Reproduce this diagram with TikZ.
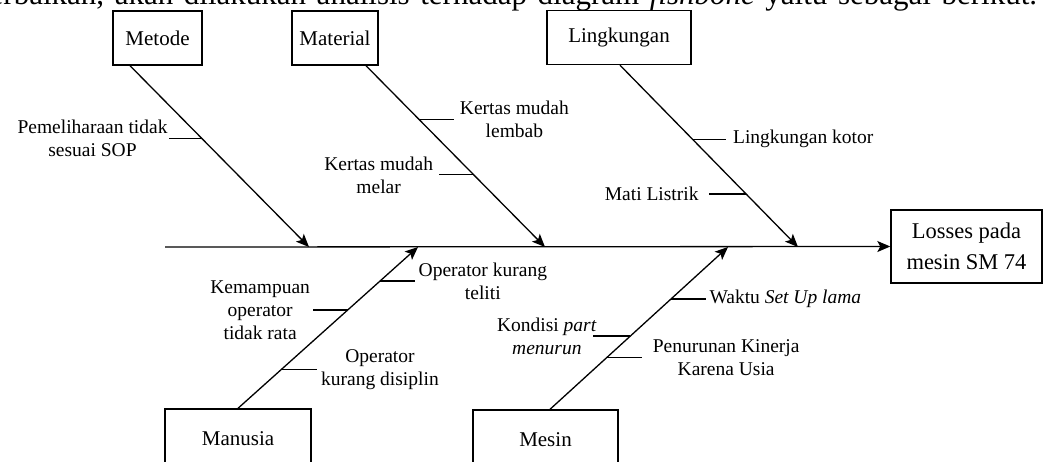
\documentclass[tikz,border=0pt]{standalone}
\usepackage{fontspec}
\setmainfont{Liberation Serif}
\usetikzlibrary{arrows.meta,positioning,calc}
\newcommand{\labelfont}{\fontsize{19.5}{23}\selectfont}
\newcommand{\catfont}{\fontsize{21}{31}\selectfont}
\tikzset{
  cat/.style   = {draw, line width=1.4pt, minimum height=54pt, inner sep=2pt,
                  align=center, font=\catfont},
  cause/.style = {align=center, inner sep=0pt, font=\labelfont},
  bone/.style  = {-{Stealth[length=13pt,width=11pt,inset=3pt]}, line width=1.3pt},
  twig/.style  = {line width=1.3pt},
}

\begin{document}
\begin{tikzpicture}[x=1pt, y=-1pt]
  \useasboundingbox (0,0) rectangle (1044,461);
  \clip (0,0) rectangle (1044,461);
  % running text above the figure
  \node[anchor=base west, inner sep=0pt, font=\fontsize{31}{36}\selectfont] (intro) at (-26,4)
    {\spaceskip=10.6pt perbaikan, akan dilakukan analisis terhadap diagram \textit{fishbone} yaitu sebagai berikut.};
  % categories
  \node[cat, minimum width=89pt] (metode) at (157.5,38) {Metode};
  \node[cat, minimum width=86pt] (material) at (335,38) {Material};
  \node[cat, minimum width=144pt] (lingkungan) at (619,37.5) {Lingkungan};
  \node[cat, minimum width=146pt, minimum height=60pt] (manusia) at (238,439) {Manusia};
  \node[cat, minimum width=145pt, minimum height=60pt] (mesin) at (545.5,440) {Mesin};
  \node[cat, minimum width=151pt, minimum height=73pt, font=\fontsize{22.5}{31}\selectfont]
    (losses) at (966.5,246.5) {Losses pada\\mesin SM 74};
  % spine
  \coordinate (tail) at (165,247);
  \draw[bone] (tail) -- (losses.west);
  % bones
  \coordinate (mS)  at ([xshift=-27.5pt]metode.south);
  \coordinate (maS) at ([xshift=31pt]material.south);
  \coordinate (lS)  at ([xshift=1pt]lingkungan.south);
  \coordinate (mnS) at (manusia.north);
  \coordinate (msS) at ([xshift=4.5pt]mesin.north);
  \coordinate (hM)  at (309,247);
  \coordinate (hMa) at (545,247);
  \coordinate (hL)  at (798,247);
  \coordinate (hMn) at (418,247);
  \coordinate (hMs) at (728,247);
  \draw[bone] (mS) -- (hM);
  \draw[bone] (maS) -- (hMa);
  \draw[bone] (lS) -- (hL);
  \draw[bone] (mnS) -- (hMn);
  \draw[bone] (msS) -- (hMs);
  % causes
  \draw[twig] ($(mS)!0.403!(hM)$) -- ++(-33,0) node[cause, left=1pt] (pem) {Pemeliharaan tidak\\sesuai SOP};
  \draw[twig] ($(maS)!0.298!(hMa)$) -- ++(35,0) node[cause, right=5pt] (lembab) {Kertas mudah\\lembab};
  \draw[twig] ($(maS)!0.602!(hMa)$) -- ++(-35,0) node[cause, left=5pt] (melar) {Kertas mudah\\melar};
  \draw[twig] ($(lS)!0.407!(hL)$) -- ++(34,0) node[cause, right=6pt] (kotor) {Lingkungan kotor};
  \draw[twig] ($(lS)!0.709!(hL)$) -- ++(-37,0) node[cause, left=10pt] (listrik) {Mati Listrik};
  \draw[twig] ($(mnS)!0.789!(hMn)$) -- ++(35,0) node[cause, right=3pt] (teliti) {Operator kurang\\teliti};
  \draw[twig] ($(mnS)!0.609!(hMn)$) -- ++(-35,0) node[cause, left=2pt] (mampu) {Kemampuan\\operator\\tidak rata};
  \draw[twig] ($(mnS)!0.242!(hMn)$) -- ++(35,0) node[cause, right=4pt] (disiplin) {Operator\\kurang disiplin};
  \draw[twig] ($(msS)!0.679!(hMs)$) -- ++(35,0) node[cause, right=3pt] (setup) {Waktu \textit{Set Up lama}};
  \draw[twig] ($(msS)!0.451!(hMs)$) -- ++(-37,0) node[cause, left=-4pt] (kondisi) {Kondisi \textit{part}\\\textit{menurun}};
  \draw[twig] ($(msS)!0.321!(hMs)$) -- ++(35,0) node[cause, right=10pt] (usia) {Penurunan Kinerja\\Karena Usia};
\end{tikzpicture}
\end{document}
